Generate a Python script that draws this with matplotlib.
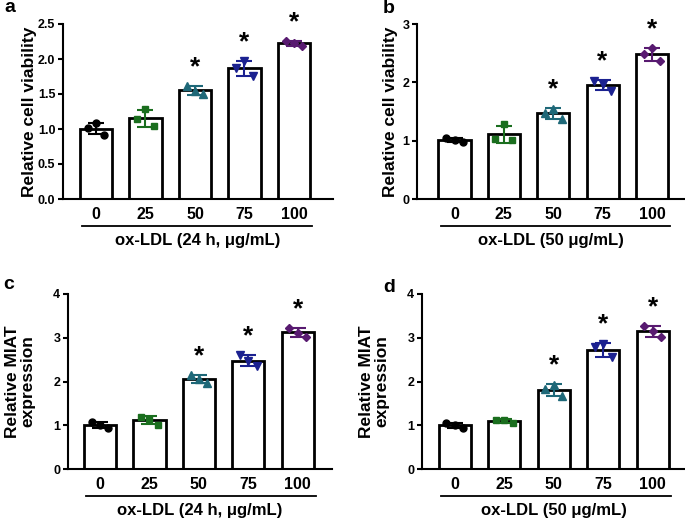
import numpy as np
import matplotlib
matplotlib.use('Agg')
import matplotlib.pyplot as plt
from matplotlib.transforms import blended_transform_factory

plt.rcParams['font.family'] = ['Liberation Sans', 'DejaVu Sans']
plt.rcParams['font.weight'] = 'bold'

# Doses on the x axis
doses = ['0', '25', '50', '75', '100']

# Replicate values (left, middle, right point) for each dose
a_points = [[1.01, 1.09, 0.92], [1.14, 1.28, 1.04], [1.62, 1.54, 1.50],
            [1.87, 1.97, 1.76], [2.26, 2.23, 2.19]]
b_points = [[1.05, 1.01, 0.98], [1.03, 1.28, 1.02], [1.48, 1.55, 1.37],
            [2.02, 1.97, 1.86], [2.48, 2.59, 2.37]]
c_points = [[1.07, 1.00, 0.94], [1.19, 1.15, 1.01], [2.15, 2.05, 1.97],
            [2.61, 2.48, 2.35], [3.23, 3.12, 3.02]]
d_points = [[1.06, 1.00, 0.93], [1.13, 1.13, 1.05], [1.84, 1.92, 1.66],
            [2.78, 2.85, 2.55], [3.27, 3.16, 3.02]]

# Groups marked as significant
signif = [2, 3, 4]

colors = ['#000000', '#1a6e1e', '#1e6878', '#1b2190', '#581a70']
markers = ['o', 's', '^', 'v', 'D']
msizes = [5, 5, 5.5, 5.5, 4]


def draw_panel(ax, points, ylim, yticks, yfmt, ylabel, xlabel, xlim, ylab_x):
    x = np.arange(len(doses))
    means = [np.mean(p) for p in points]
    sds = [np.std(p, ddof=1) for p in points]
    ax.bar(x, means, width=0.65, color='white', edgecolor='black',
           linewidth=2.0, zorder=1)
    offs = [-0.17, 0, 0.17]
    for i, p in enumerate(points):
        ax.errorbar(x[i], means[i], yerr=sds[i], color=colors[i], capsize=5.5,
                    elinewidth=1.5, capthick=1.5, zorder=3)
        ax.plot(x[i] + np.array(offs), p, linestyle='none', marker=markers[i],
                color=colors[i], markersize=msizes[i], zorder=4)
    for i in signif:
        ax.annotate('*', (x[i], means[i] + sds[i]), xytext=(0, 13.5),
                    textcoords='offset points', ha='center', va='center',
                    fontsize=19, fontweight='bold')
    ax.set_xlim(*xlim)
    ax.set_ylim(*ylim)
    ax.set_yticks(yticks)
    ax.set_yticklabels([yfmt % v for v in yticks], fontsize=9, fontweight='bold')
    ax.set_xticks(x)
    ax.set_xticklabels(doses, fontsize=11.5, fontweight='bold')
    ax.tick_params(axis='x', which='major', length=0, pad=6)
    ax.set_xticks([2], minor=True)
    ax.tick_params(axis='x', which='minor', length=3.5, width=1.5)
    ax.tick_params(axis='y', length=3.5, width=1.5, pad=2)
    for s in ['top', 'right']:
        ax.spines[s].set_visible(False)
    for s in ['left', 'bottom']:
        ax.spines[s].set_linewidth(1.5)
    # line under the dose labels
    tr = blended_transform_factory(ax.transData, ax.transAxes)
    ax.plot([-0.28, 4.36], [-0.153, -0.153], color='black', linewidth=1.3,
            transform=tr, clip_on=False)
    ax.set_xlabel(xlabel, fontsize=12, fontweight='bold', labelpad=8)
    ax.text(ylab_x, 0.5, ylabel, transform=ax.transAxes, rotation=90,
            ha='center', va='center', fontsize=12.5, fontweight='bold',
            linespacing=1.0)


fig = plt.figure(figsize=(6.85, 5.24), dpi=100)
W, H = 685.0, 524.0

ax_a = fig.add_axes([63 / W, 1 - 199 / H, 270 / W, 175 / H])
ax_b = fig.add_axes([417 / W, 1 - 199 / H, 268 / W, 175 / H])
ax_c = fig.add_axes([68 / W, 1 - 469 / H, 264 / W, 175 / H])
ax_d = fig.add_axes([422 / W, 1 - 469 / H, 264 / W, 175 / H])

draw_panel(ax_a, a_points, (0, 2.5), [0, 0.5, 1.0, 1.5, 2.0, 2.5], '%.1f',
           'Relative cell viability', 'ox-LDL (24 h, μg/mL)', (-0.667, 4.79), -0.125)
draw_panel(ax_b, b_points, (0, 3), [0, 1, 2, 3], '%d',
           'Relative cell viability', 'ox-LDL (50 μg/mL)', (-0.76, 4.67), -0.10)
draw_panel(ax_c, c_points, (0, 4), [0, 1, 2, 3, 4], '%d',
           'Relative MIAT\nexpression', 'ox-LDL (24 h, μg/mL)', (-0.646, 4.69), -0.18)
draw_panel(ax_d, d_points, (0, 4), [0, 1, 2, 3, 4], '%d',
           'Relative MIAT\nexpression', 'ox-LDL (50 μg/mL)', (-0.66, 4.67), -0.18)

# panel letters
fig.text(4 / W, 1 - 12 / H, 'a', fontsize=14, fontweight='bold', va='baseline')
fig.text(383 / W, 1 - 13 / H, 'b', fontsize=14, fontweight='bold', va='baseline')
fig.text(3 / W, 1 - 289 / H, 'c', fontsize=14, fontweight='bold', va='baseline')
fig.text(383 / W, 1 - 292 / H, 'd', fontsize=14, fontweight='bold', va='baseline')

fig.savefig('out.png', dpi=100)
